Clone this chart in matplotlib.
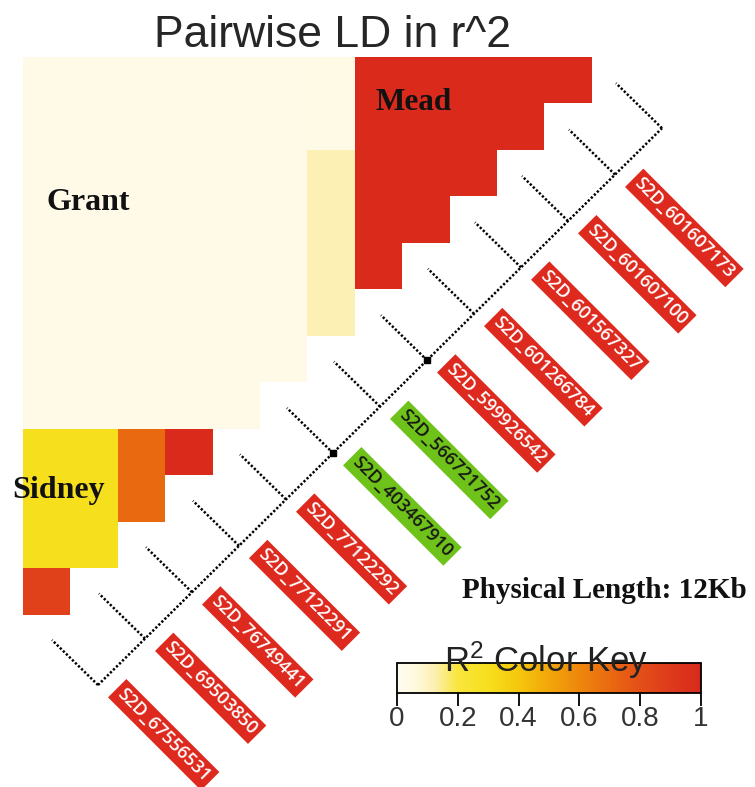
import numpy as np
import matplotlib
matplotlib.use("Agg")
import matplotlib.pyplot as plt
from matplotlib.colors import LinearSegmentedColormap, Normalize
from matplotlib.cm import ScalarMappable

plt.rcParams['mathtext.fontset'] = 'custom'
plt.rcParams['mathtext.rm'] = 'Liberation Sans'
plt.rcParams['mathtext.it'] = 'Liberation Sans:italic'

# markers, bottom-left to top-right along the line
markers = ['S2D_67556531', 'S2D_69503850', 'S2D_76749441', 'S2D_77122291',
           'S2D_77122292', 'S2D_403467910', 'S2D_566721752', 'S2D_599926542',
           'S2D_601266784', 'S2D_601567327', 'S2D_601607100', 'S2D_601607173']
marker_group = ['red'] * 5 + ['green'] * 2 + ['red'] * 5
dot_junctions = [5, 7]

# r^2 blocks (row lists, staircase triangle)
grant_r2 = [[0.03, 0.03, 0.03, 0.03, 0.03, 0.03, 0.04],
            [0.03, 0.03, 0.03, 0.03, 0.03, 0.03, 0.04],
            [0.03, 0.03, 0.03, 0.03, 0.03, 0.03, 0.12],
            [0.03, 0.03, 0.03, 0.03, 0.03, 0.03, 0.12],
            [0.03, 0.03, 0.03, 0.03, 0.03, 0.03, 0.12],
            [0.03, 0.03, 0.03, 0.03, 0.03, 0.03, 0.12],
            [0.03, 0.03, 0.03, 0.03, 0.03, 0.03],
            [0.03, 0.03, 0.03, 0.03, 0.03]]
mead_r2 = [[1.0, 1.0, 1.0, 1.0, 1.0],
           [1.0, 1.0, 1.0, 1.0],
           [1.0, 1.0, 1.0],
           [1.0, 1.0],
           [1.0]]
sidney_r2 = [[0.3, 0.3, 0.7, 1.0],
             [0.3, 0.3, 0.7],
             [0.3, 0.3],
             [0.86]]

key_ticks = [0, 0.2, 0.4, 0.6, 0.8, 1]
key_labels = ['0', '0.2', '0.4', '0.6', '0.8', '1']

n = len(markers)
ld = np.full((n, n), np.nan)
for r, row in enumerate(grant_r2):
    ld[r, :len(row)] = row
for r, row in enumerate(mead_r2):
    ld[r, 7:7 + len(row)] = row
for r, row in enumerate(sidney_r2):
    ld[8 + r, :len(row)] = row

cmap = LinearSegmentedColormap.from_list('ldheat', [
    (0.0, '#fffcf0'), (0.05, '#fffae2'), (0.12, '#fdf0b4'), (0.2, '#f9e53c'),
    (0.3, '#f6df1c'), (0.4, '#f5c70c'), (0.5, '#f2a60a'), (0.6, '#ee870c'),
    (0.7, '#ea6a10'), (0.8, '#e44f18'), (0.9, '#de3a1c'), (1.0, '#d92a1c')])
cmap.set_bad((1, 1, 1, 0))
norm = Normalize(0, 1)

fig = plt.figure(figsize=(7.55, 7.87), dpi=100)
ax = fig.add_axes([0, 0, 1, 1])
ax.set_xlim(0, 755)
ax.set_ylim(787, 0)
ax.axis('off')

# heatmap
x0, y0, cw, ch = 23, 57, 47.4, 46.5
ax.imshow(np.ma.masked_invalid(ld), cmap=cmap, norm=norm, interpolation='nearest',
          extent=[x0, x0 + n * cw, y0 + n * ch, y0], aspect='auto')

# marker line with ticks
lx0, ly0, sx, sy = 98, 685, 47.0, -46.4
tx, ty = -46, -45
nj = n + 1
jx = lx0 + sx * np.arange(nj)
jy = ly0 + sy * np.arange(nj)
dots = dict(color='black', lw=1.8, ls=(0, (0.9, 0.8)), solid_capstyle='butt')
ax.plot([jx[0], jx[-1]], [jy[0], jy[-1]], **dots)
for i in range(nj):
    ax.plot([jx[i], jx[i] + tx], [jy[i], jy[i] + ty], **dots)
ax.plot(jx[dot_junctions], jy[dot_junctions], 's', color='black', ms=4)

# marker labels
for i, name in enumerate(markers):
    fc = '#de2a1e' if marker_group[i] == 'red' else '#6fc21a'
    tc = 'white' if marker_group[i] == 'red' else '#161616'
    ax.text(jx[i] + 22, jy[i] + 6, name, rotation=-45, rotation_mode='anchor',
            ha='left', va='center', fontsize=13, family='Open Sans',
            weight='semibold', color=tc,
            bbox=dict(boxstyle='square,pad=0.22', fc=fc, ec='none'))

# annotations
ax.text(332, 47, 'Pairwise LD in r^2', ha='center', va='baseline', fontsize=32,
        family='Liberation Sans', color='#262626')
serif = dict(family='Liberation Serif', weight='bold', color='#111111', va='baseline')
ax.text(375, 110, 'Mead', fontsize=22.5, **serif)
ax.text(47, 210, 'Grant', fontsize=23, **serif)
ax.text(12, 498, 'Sidney', fontsize=23, **serif)
ax.text(462, 598, 'Physical Length: 12Kb', fontsize=21, **serif)

# color key
cax = fig.add_axes([397 / 755, 1 - 693 / 787, 304 / 755, 30 / 787])
cb = fig.colorbar(ScalarMappable(norm=norm, cmap=cmap), cax=cax,
                  orientation='horizontal', ticks=key_ticks)
cb.outline.set_linewidth(1.3)
cb.ax.set_xticklabels(key_labels, family='Liberation Sans', fontsize=20, color='#333333')
cb.ax.tick_params(length=9, width=1.3, pad=0)
fig.text(546, 672, r'R$^{2}$ Color Key', transform=ax.transData, ha='center',
         va='baseline', fontsize=25, family='Liberation Sans', color='#222222')

fig.savefig('out.png', dpi=100)
